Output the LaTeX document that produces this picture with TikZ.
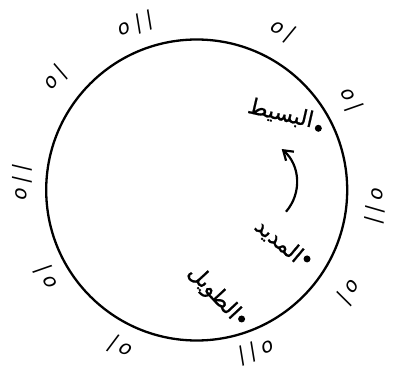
\documentclass[tikz,border=0pt]{standalone}
\usepackage{fontspec}
\usetikzlibrary{arrows.meta}
\newfontfamily\arabicfont[Script=Arabic, FakeBold=0.8]{DejaVu Sans}
\newfontfamily\footfont[FakeSlant=0.2, LetterSpace=25]{DejaVu Sans}
\TeXXeTstate=1
\begin{document}
\begin{tikzpicture}[x=1pt, y=1pt, >={Straight Barb[length=9pt, width=12pt]},
    footlabel/.style={font=\footfont\fontsize{20}{20}\selectfont, inner sep=0pt},
    meterdot/.style={circle, fill, inner sep=0pt, minimum size=7pt},
    bahrname/.style={font=\arabicfont\fontsize{22}{22}\selectfont, inner sep=3pt}]
    \useasboundingbox (-196.7,-177) rectangle (199.3,190);

    \coordinate (O) at (0,0);
    \draw[line width=2.3pt] (O) circle (150.5);

    % sabab and watad marks round the circle
    \foreach \a/\r/\t [count=\i] in {110.6/176/{o||}, 62/181/{o|}, 30.7/178/{o|},
        -4.8/180/{o||}, -33.4/183/{o|}, -69.4/172/{o||}, -115.5/174/{o|},
        -149.4/173/{o|}, 178/175/{o||}, 142/180/{o|}}
        \node[footlabel, rotate=\a-90] (foot\i) at (\a:\r) {\t};

    \node[meterdot] (Basit) at (26.9:136.4) {};
    \node[meterdot] (Madid) at (-32:130.1) {};
    \node[meterdot] (Tawil) at (-70.8:136.6) {};

    \node[bahrname, rotate=-13, anchor=base east] (BasitName) at (Basit.west)
        {\beginR البسيط\endR};
    \node[bahrname, rotate=-40, anchor=east, yshift=-2pt] (MadidName) at (Madid.west)
        {\beginR المديد\endR};
    \node[bahrname, rotate=-47, anchor=east] (TawilName) at (Tawil.west)
        {\beginR الطويل\endR};

    \coordinate (ArrowTail) at (89.3,-21.7);
    \coordinate (ArrowTip) at (85,41);
    \draw[->, line width=2.2pt] (ArrowTail) to[bend right=45] (ArrowTip);
\end{tikzpicture}
\end{document}
